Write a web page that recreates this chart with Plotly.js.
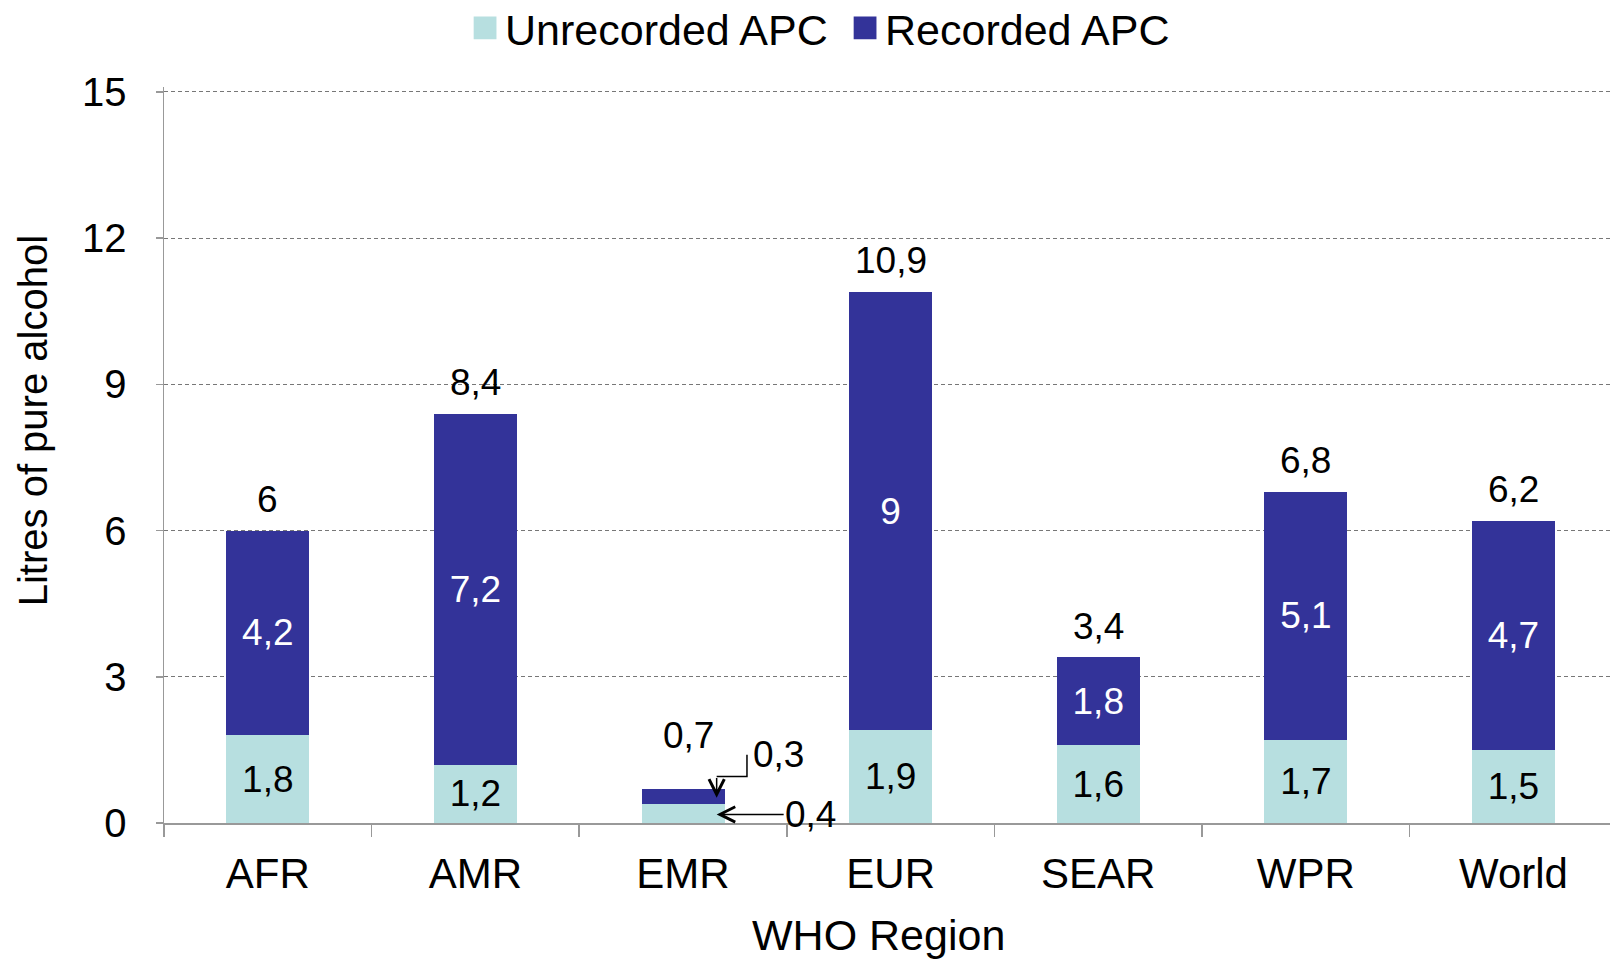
<!DOCTYPE html>
<html>
<head>
<meta charset="utf-8">
<script src="https://cdn.plot.ly/plotly-3.0.1.min.js"></script>
<style>html,body{margin:0;padding:0;background:#fff;}#chart{width:1610px;height:960px;}</style>
</head>
<body>
<div id="chart"></div>
<script>
// Data
var regions = ["AFR", "AMR", "EMR", "EUR", "SEAR", "WPR", "World"];
var unrecorded = [1.8, 1.2, 0.4, 1.9, 1.6, 1.7, 1.5];
var recorded = [4.2, 7.2, 0.3, 9, 1.8, 5.1, 4.7];
var totals = [6, 8.4, 0.7, 10.9, 3.4, 6.8, 6.2];
var yTicks = [0, 3, 6, 9, 12, 15];
var smallRegion = "EMR"; // segments too thin for inside labels; labelled by arrows

function fmt(v) { return String(v).replace(".", ","); }

var FONT = "Liberation Sans, Arial, sans-serif";
var idxSmall = regions.indexOf(smallRegion);

var unrecText = unrecorded.map(function (v, i) { return i === idxSmall ? "" : fmt(v); });
var recText = recorded.map(function (v, i) { return i === idxSmall ? "" : fmt(v); });

var traces = [
  {
    type: "bar", name: "Unrecorded APC", x: regions, y: unrecorded,
    marker: { color: "#B7DFE0" }, width: 0.4,
    text: unrecText, textposition: "inside", insidetextanchor: "middle",
    constraintext: "none", textangle: 0,
    textfont: { family: FONT, size: 37, color: "#000" },
    hoverinfo: "none"
  },
  {
    type: "bar", name: "Recorded APC", x: regions, y: recorded,
    marker: { color: "#333399" }, width: 0.4,
    text: recText, textposition: "inside", insidetextanchor: "middle",
    constraintext: "none", textangle: 0,
    textfont: { family: FONT, size: 37, color: "#fff" },
    hoverinfo: "none"
  }
];

var annotations = totals.map(function (t, i) {
  return {
    x: regions[i], y: t, xref: "x", yref: "y", text: fmt(t), showarrow: false,
    yanchor: "middle", yshift: i === idxSmall ? 53 : 31, xshift: i === idxSmall ? 5 : 0,
    font: { family: FONT, size: 37, color: "#000" }
  };
});

// EMR pointer labels
annotations.push({
  x: idxSmall + 0.162, y: unrecorded[idxSmall] * 0.44, xref: "x", yref: "y",
  text: fmt(unrecorded[idxSmall]), showarrow: true, arrowhead: 5, arrowsize: 2, arrowwidth: 1.5,
  arrowcolor: "#000", ax: 94, ay: 0, xanchor: "center", yshift: 0,
  font: { family: FONT, size: 37, color: "#000" }
});
annotations.push({
  x: idxSmall + 0.162, y: unrecorded[idxSmall] + recorded[idxSmall] * 0.4, xref: "x", yref: "y",
  text: "", showarrow: true, arrowhead: 5, arrowsize: 2, arrowwidth: 1.5, arrowcolor: "#000",
  axref: "x", ayref: "y", ax: idxSmall + 0.162, ay: 0.955, standoff: 0, startstandoff: 0
});
annotations.push({
  x: idxSmall + 0.462, y: 1.4, xref: "x", yref: "y", text: fmt(recorded[idxSmall]),
  showarrow: false, font: { family: FONT, size: 37, color: "#000" }
});
// axis titles (placed as in the reference)
annotations.push({
  x: -0.0905, y: 0.546, xref: "paper", yref: "paper", text: "Litres of pure alcohol",
  textangle: -90, showarrow: false, xanchor: "center", yanchor: "middle",
  font: { family: FONT, size: 40, color: "#000" }
});
annotations.push({
  x: 0.494, y: -0.1526, xref: "paper", yref: "paper", text: "WHO Region",
  showarrow: false, xanchor: "center", yanchor: "middle",
  font: { family: FONT, size: 43, color: "#000" }
});

var shapes = [{
  type: "path", xref: "x", yref: "y",
  path: "M " + (idxSmall + 0.162) + " 0.955 L " + (idxSmall + 0.308) + " 0.955 L " + (idxSmall + 0.308) + " 1.4",
  line: { color: "#000", width: 1.5 }
}];

var layout = {
  width: 1610, height: 960,
  margin: { l: 164, r: 0, t: 86.5, b: 136.5, autoexpand: false },
  paper_bgcolor: "#fff", plot_bgcolor: "#fff",
  barmode: "stack",
  font: { family: FONT, color: "#000" },
  showlegend: true,
  legend: {
    orientation: "h", x: 0.471, xanchor: "center", xref: "paper",
    y: 0.971, yanchor: "middle", yref: "container",
    traceorder: "normal", font: { family: FONT, size: 43, color: "#000" },
    itemwidth: 30, tracegroupgap: 0, entrywidth: 335, entrywidthmode: "pixels"
  },
  xaxis: {
    range: [-0.5, 6.465], type: "category", fixedrange: true,
    showline: true, linecolor: "#999", linewidth: 1.5,
    ticks: "outside", tickson: "boundaries", ticklen: 12, tickcolor: "#999", tickwidth: 1.5,
    tickfont: { family: FONT, size: 42, color: "#000" },
    ticklabelstandoff: 13,
    showgrid: false, zeroline: false,
    automargin: false
  },
  yaxis: {
    range: [0, 15.1], tickvals: yTicks, ticktext: yTicks.map(String), fixedrange: true,
    showline: true, linecolor: "#999", linewidth: 1.5,
    ticks: "outside", ticklen: 7, tickcolor: "#999", tickwidth: 1.5,
    tickfont: { family: FONT, size: 40, color: "#000" },
    ticklabelstandoff: 21,
    showgrid: true, gridcolor: "#777", gridwidth: 1, griddash: "4px,3px",
    zeroline: false,
    automargin: false
  },
  annotations: annotations,
  shapes: shapes
};

Plotly.newPlot("chart", traces, layout, { displayModeBar: false, staticPlot: true }).then(function (gd) {
  // enlarge the legend swatches to match the reference's square keys
  var pts = gd.querySelectorAll(".legend .legendpoints path");
  pts.forEach(function (p) {
    var t = p.getAttribute("transform") || "";
    p.setAttribute("transform", t + " scale(1.9)");
  });
});
</script>
</body>
</html>
